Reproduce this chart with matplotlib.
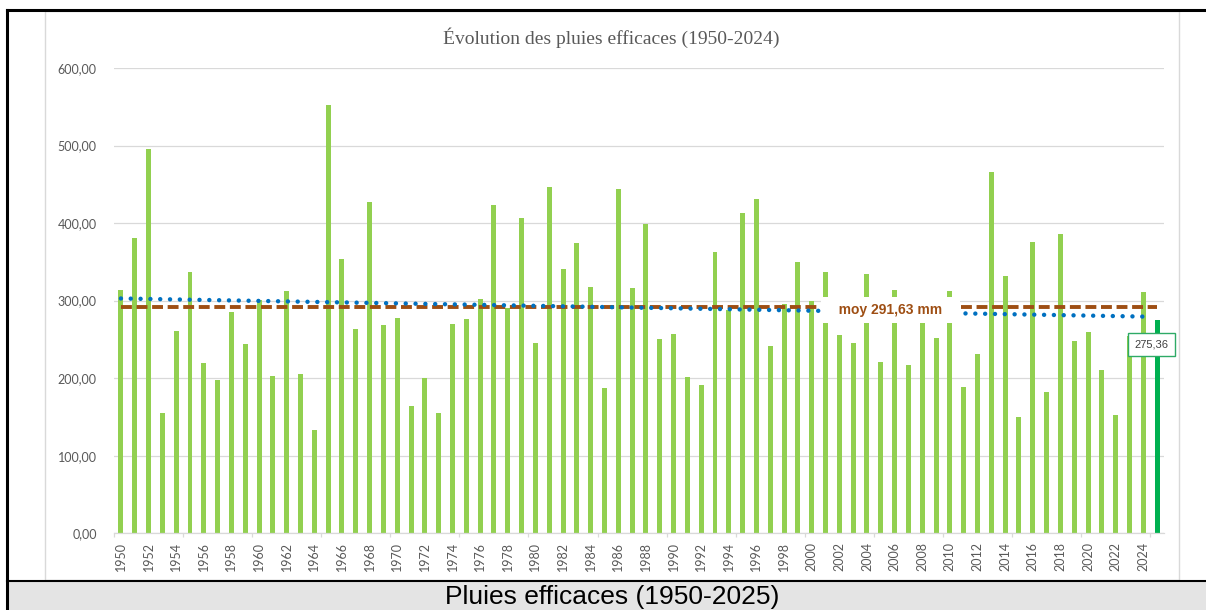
"""
Pluies efficaces 1950-2025 : barres annuelles, moyenne et tendance
"""

import numpy as np
import matplotlib.pyplot as plt
from matplotlib.patches import Rectangle
from matplotlib.lines import Line2D
from matplotlib.ticker import FuncFormatter, MultipleLocator

years = list(range(1950, 2026))
pluies = [
    313.7, 380.3, 495.5, 155.1, 260.8, 336.9, 220.0, 197.7, 284.9, 243.7,  # 1950-1959
    300.8, 202.4, 312.4, 205.8, 132.8, 551.8, 353.7, 263.4, 426.7, 268.2,  # 1960-1969
    277.6, 164.2, 199.8, 155.1, 269.9, 275.9, 301.7, 423.3, 290.0, 406.5,  # 1970-1979
    245.0, 446.9, 340.3, 374.7, 318.0, 186.9, 443.5, 316.7, 398.4, 251.0,  # 1980-1989
    257.0, 201.1, 190.8, 363.1, 288.0, 412.5, 431.5, 241.5, 295.7, 350.2,  # 1990-1999
    300.0, 337.3, 255.7, 245.0, 334.3, 220.9, 313.7, 216.6, 275.0, 252.3,  # 2000-2009
    312.4, 189.0, 230.8, 465.4, 332.2, 150.4, 375.6, 182.2, 385.5, 248.4,  # 2010-2019
    260.0, 210.6, 152.6, 255.0, 310.7, 275.36,                              # 2020-2025
]
MOYENNE = 291.63
TITLE = "Évolution des pluies efficaces (1950-2024)"
CAPTION = "Pluies efficaces (1950-2025)"

GREEN = '#92D050'
GREEN_LAST = '#00B050'
BROWN = '#9E4E13'
BLUE = '#0070C0'
GRID = '#D9D9D9'
TXT = '#595959'

W, H = 1206, 610


def fx(px):
    return px / W


def fy(py):
    return 1 - py / H


if __name__ == '__main__':
    fig = plt.figure(figsize=(W / 100, H / 100), dpi=100)

    # document frame: caption cell, black borders, chart border
    fig.patches.append(Rectangle((fx(7), 0), 1 - fx(7), fy(581), transform=fig.transFigure,
                                 facecolor='#E4E4E4', edgecolor='none', zorder=-2))
    fig.patches.append(Rectangle((fx(45), fy(580)), fx(1179) - fx(45), fy(11) - fy(580),
                                 transform=fig.transFigure, facecolor='white', edgecolor=GRID,
                                 lw=1, zorder=-1))
    fig.lines.append(Line2D([fx(7), 1], [fy(9.5), fy(9.5)], transform=fig.transFigure, color='black', lw=2.2))
    fig.lines.append(Line2D([fx(7), fx(7)], [0, fy(9.5)], transform=fig.transFigure, color='black', lw=2.2))
    fig.lines.append(Line2D([fx(7), 1], [fy(580.5), fy(580.5)], transform=fig.transFigure, color='black', lw=1.5))

    ax = fig.add_axes([fx(114), fy(533.3), fx(1164) - fx(114), fy(68) - fy(533.3)])
    ax.set_facecolor('none')

    colors = [GREEN] * (len(years) - 1) + [GREEN_LAST]
    ax.bar(years, pluies, width=0.36, color=colors, zorder=2)

    # moyenne
    ax.plot([years[0], years[-1]], [MOYENNE, MOYENNE], color=BROWN, lw=2.8,
            dashes=(2.8, 1.2), dash_capstyle='butt', zorder=3)

    # tendance lineaire (1950-2024)
    yrs = np.array(years[:-1])
    coef = np.polyfit(yrs, np.array(pluies[:-1]), 1)
    ax.plot(yrs, np.polyval(coef, yrs), color=BLUE, lw=3.2, linestyle=(0, (0.01, 2.2)),
            dash_capstyle='round', zorder=4)

    moyTxt = f"moy {MOYENNE:.2f}".replace('.', ',') + " mm"
    ax.text(2005.7, MOYENNE - 3.5, "   " + moyTxt + "   ", ha='center', va='center', fontsize=10,
            fontweight='bold', color=BROWN, family='Liberation Sans', zorder=6,
            bbox=dict(boxstyle='square,pad=0.45', facecolor='white', edgecolor='none'))

    lastTxt = f"{pluies[-1]:.2f}".replace('.', ',')
    ax.text(2024.6, 243.4, lastTxt, ha='center', va='center', fontsize=8, color='#404040',
            family='Liberation Sans', zorder=6,
            bbox=dict(boxstyle='square,pad=0.6', facecolor='white', edgecolor='#2EAA66', lw=1))

    ax.set_xlim(years[0] - 0.5, years[-1] + 0.5)
    ax.set_ylim(0, 600)
    ax.yaxis.set_major_locator(MultipleLocator(100))
    ax.yaxis.set_major_formatter(FuncFormatter(lambda v, p: f"{v:.2f}".replace('.', ',')))
    ax.grid(axis='y', color=GRID, lw=0.9, zorder=0)
    ax.set_axisbelow(True)

    ax.set_xticks(years[::2])
    ax.set_xticklabels([str(y) for y in years[::2]], rotation=90)
    ax.set_xticks(np.arange(years[0] - 0.5, years[-1] + 1, 5), minor=True)
    ax.tick_params(axis='x', which='major', length=0, pad=6.5, labelsize=9, labelcolor=TXT)
    ax.tick_params(axis='x', which='minor', length=3, color=GRID, width=0.9)
    ax.tick_params(axis='y', length=0, pad=12.5, labelsize=9, labelcolor=TXT)
    for lbl in ax.get_xticklabels() + ax.get_yticklabels():
        lbl.set_family('Lato')

    for s in ['left', 'right', 'top']:
        ax.spines[s].set_visible(False)
    ax.spines['bottom'].set_color(GRID)
    ax.spines['bottom'].set_linewidth(0.9)

    fig.text(fx(611), fy(38), TITLE, ha='center', va='center', fontsize=14, color=TXT,
             family='Liberation Serif')
    fig.text(fx(612), fy(597), CAPTION, ha='center', va='center', fontsize=19, color='black',
             family='Liberation Sans')

    plt.savefig('out.png', dpi=100)
